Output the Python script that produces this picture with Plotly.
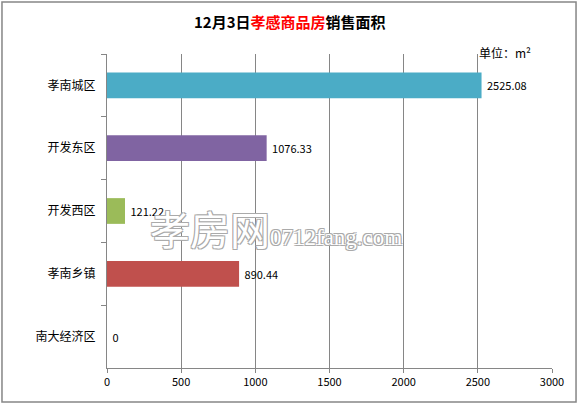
"""Surface de vente des logements à Xiaogan, 3 décembre."""

import plotly.graph_objects as go

# données
districts = ["孝南城区", "开发东区", "开发西区", "孝南乡镇", "南大经济区"]
areas = [2525.08, 1076.33, 121.22, 890.44, 0]
bar_colors = ["#4BACC6", "#8064A2", "#9BBB59", "#C0504D", "#4F81BD"]
labels = ["2525.08", "1076.33", "121.22", "890.44", "0"]
x_ticks = [0, 500, 1000, 1500, 2000, 2500, 3000]

FONT = "Noto Sans CJK SC, sans-serif"

fig = go.Figure()
fig.add_trace(go.Bar(
    y=districts, x=areas, orientation="h",
    marker=dict(color=bar_colors, line=dict(width=0)),
    width=0.41,
    text=labels, texttemplate=" %{text}", textposition="outside",
    cliponaxis=False,
    textfont=dict(size=11, color="#000000", family=FONT),
))

fig.update_layout(
    width=579, height=405,
    margin=dict(l=107, r=27, t=54, b=37),
    paper_bgcolor="white", plot_bgcolor="white",
    showlegend=False,
    font=dict(family=FONT, size=12, color="#000000"),
    xaxis=dict(range=[0, 3000], tickvals=x_ticks, showgrid=True,
               gridcolor="#868686", gridwidth=1, zeroline=False,
               showline=True, linecolor="#868686", ticks="outside",
               ticklen=4, tickcolor="#868686", tickfont=dict(size=11),
               automargin=False),
    yaxis=dict(categoryorder="array", categoryarray=districts,
               autorange="reversed", showline=True, linecolor="#868686",
               ticks="outside", tickson="boundaries", ticklen=5,
               tickcolor="#868686", ticklabelstandoff=8,
               tickfont=dict(size=12), automargin=False),
    shapes=[dict(type="rect", xref="paper", yref="paper",
                 x0=-0.236, x1=1.054, y0=-0.108, y1=1.166,
                 line=dict(color="#868686", width=1.5))],
)

# titre, unité, filigrane
fig.add_annotation(
    x=0.411, y=1.102, xref="paper", yref="paper", showarrow=False,
    xanchor="center", yanchor="middle",
    text="<b>12月3日<span style='color:#FF0000'>孝感商品房</span>销售面积</b>",
    font=dict(size=15, color="#000000"),
)
fig.add_annotation(
    x=0.894, y=1.006, xref="paper", yref="paper", showarrow=False,
    xanchor="center", yanchor="middle",
    text="单位：m²", font=dict(size=12),
)
outline = "1px 1px 0 #aaa, -1px -1px 0 #aaa, 1px -1px 0 #aaa, -1px 1px 0 #aaa"
fig.add_annotation(
    x=0.092, y=0.446, xref="paper", yref="paper", showarrow=False,
    xanchor="left", yanchor="middle",
    text="孝房网<span style='font-family:Liberation Serif;font-size:23px'>0712fang.com</span>",
    font=dict(size=40, color="white", shadow=outline),
)

# la page a une marge par défaut de 8px
fig.write_html("out.html", config={"displayModeBar": False},
               post_script="document.body.style.margin='0';")
